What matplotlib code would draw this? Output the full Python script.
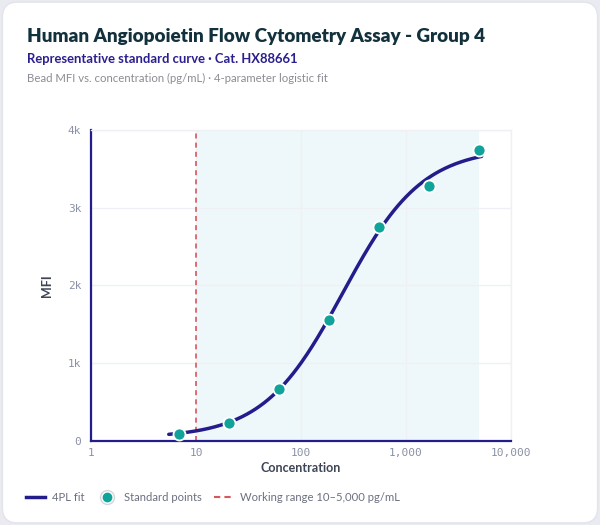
import numpy as np
import matplotlib.pyplot as plt
from matplotlib.patches import FancyBboxPatch
from matplotlib.lines import Line2D

# standard points (pg/mL, MFI)
conc = [6.86, 20.6, 61.7, 185.2, 555.6, 1666.7, 5000.0]
mfi = [90, 228, 665, 1556, 2750, 3275, 3745]

# 4PL parameters: bottom, slope, EC50, top
fit_a, fit_b, fit_c, fit_d = 40, 1.15, 250, 3770
fit_range = [5.5, 5250]

work_lo, work_hi = 10, 5000

xticks = [1, 10, 100, 1000, 10000]
xtick_labels = ['1', '10', '100', '1,000', '10,000']
yticks = [0, 1000, 2000, 3000, 4000]
ytick_labels = ['0', '1k', '2k', '3k', '4k']

navy = '#231d8c'
teal = '#0fa39a'
red = '#d9565c'

plt.rcParams['font.family'] = ['Lato', 'DejaVu Sans']

fig = plt.figure(figsize=(6, 5.25), dpi=100)
fig.patch.set_facecolor('#e9ebf1')
card = FancyBboxPatch((0.004, 0.004), 0.992, 0.992, boxstyle='round,pad=0,rounding_size=0.025',
                      transform=fig.transFigure, facecolor='white', edgecolor='#e2e4ea', lw=1,
                      mutation_aspect=600 / 525, zorder=-10)
fig.patches.append(card)

ax = fig.add_axes([0.1517, 0.16, 0.70, 0.5924])
ax.set_zorder(1)
ax.set_facecolor('white')
ax.set_xscale('log')
ax.set_xlim(1, 10000)
ax.set_ylim(0, 4000)

ax.axvspan(work_lo, work_hi, color='#eef8fa', lw=0, zorder=0)
ax.axvline(work_lo, color=red, ls=(0, (3, 2.5)), lw=1.2, zorder=2)

x = np.logspace(np.log10(fit_range[0]), np.log10(fit_range[1]), 300)
y = fit_d + (fit_a - fit_d) / (1 + (x / fit_c) ** fit_b)
ax.plot(x, y, color=navy, lw=2.5, zorder=3, solid_capstyle='round')
ax.scatter(conc, mfi, s=75, color=teal, edgecolor='white', linewidth=1.3, zorder=4)

ax.set_xticks(xticks)
ax.set_xticklabels(xtick_labels)
ax.minorticks_off()
ax.set_yticks(yticks)
ax.set_yticklabels(ytick_labels)
ax.tick_params(length=0, pad=5, labelsize=8, labelcolor='#8a90a6')
ax.tick_params(axis='y', pad=7)
for lab in ax.get_xticklabels() + ax.get_yticklabels():
    lab.set_family('DejaVu Sans Mono')
ax.grid(True, color='#eef0f4', lw=1)
ax.set_axisbelow(True)

for s in ['top', 'right']:
    ax.spines[s].set_color('#eef0f4')
    ax.spines[s].set_linewidth(1)
for s in ['left', 'bottom']:
    ax.spines[s].set_color(navy)
    ax.spines[s].set_linewidth(1.6)

ax.set_xlabel('Concentration', fontsize=9, fontweight='bold', color='#3d4455', labelpad=3)
ax.set_ylabel('MFI', fontsize=9, fontweight='bold', color='#3d4455', labelpad=11)

fig.text(0.045, 0.93, 'Human Angiopoietin Flow Cytometry Assay - Group 4', fontsize=13.6,
         fontweight='heavy', color='#12313d', va='center')
fig.text(0.045, 0.887, 'Representative standard curve \u00b7 Cat. HX88661', fontsize=9.4,
         fontweight='bold', color='#2a1f8f', va='center')
fig.text(0.045, 0.851, 'Bead MFI vs. concentration (pg/mL) \u00b7 4-parameter logistic fit', fontsize=8.2,
         color='#8c8c94', va='center')

ring = Line2D([], [], marker='o', ls='none', markersize=10, markerfacecolor='white',
              markeredgecolor='#d3d6de', markeredgewidth=1.0)
dot = Line2D([], [], marker='o', ls='none', markersize=6, markerfacecolor=teal,
             markeredgecolor=teal)
handles = [
    Line2D([], [], color=navy, lw=2.5),
    (ring, dot),
    Line2D([], [], color=red, lw=1.5, ls=(0, (3, 2))),
]
fig.legend(handles, ['4PL fit', 'Standard points', 'Working range 10\u20135,000 pg/mL'],
           loc='center left', bbox_to_anchor=(0.043, 0.053), ncol=3, frameon=False,
           fontsize=8.1, labelcolor='#6b7080', handlelength=1.75, handletextpad=0.6,
           columnspacing=1.1, borderaxespad=0, borderpad=0)

fig.savefig('out.png', dpi=100)
